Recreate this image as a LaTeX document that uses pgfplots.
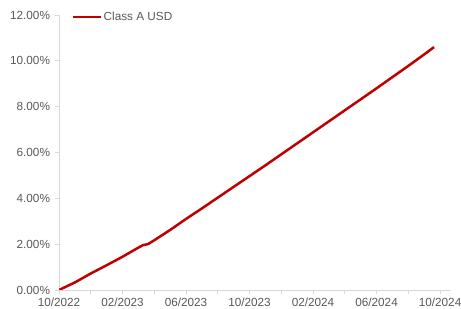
\documentclass[border=0pt]{standalone}
\usepackage{fontspec}
\setmainfont{Liberation Sans}
\usepackage{pgfplots}
\pgfplotsset{compat=1.18}
\definecolor{lineRed}{HTML}{C00000}
\definecolor{txt}{HTML}{595959}
\definecolor{axl}{HTML}{D9D9D9}
\begin{document}
\begin{tikzpicture}
\begin{axis}[
  at={(59bp,19bp)}, anchor=south west,
  scale only axis, width=391.7bp, height=275bp,
  xmin=0, xmax=24.67, ymin=0, ymax=12,
  axis x line*=bottom, axis y line*=left,
  axis line style={draw=axl, line width=0.8bp},
  tick align=outside,
  major tick length=4bp, minor tick length=4bp,
  tick style={draw=axl, line width=0.8bp},
  xtick={0,4,8,12,16,20,24},
  xticklabels={10/2022,02/2023,06/2023,10/2023,02/2024,06/2024,10/2024},
  minor xtick={2,6,10,14,18,22},
  ytick={0,2,4,6,8,10,12},
  yticklabel={\pgfmathprintnumber[fixed,fixed zerofill,precision=2]{\tick}\%},
  /pgf/number format/assume math mode=true,
  tick label style={font=\fontsize{11.8}{13}\selectfont, text=txt},
  yticklabel style={xshift=-1.5bp},
  xticklabel style={yshift=-0.5bp},
  legend style={draw=none, fill=none, at={(0.0332,0.993)}, anchor=west, inner sep=0pt,
    font=\fontsize{11.8}{13}\selectfont, text=txt, nodes={inner sep=1bp}},
  legend image code/.code={\draw[#1] (0bp,0bp) -- (28bp,0bp);},
  legend cell align=left,
]
\addplot[lineRed, line width=2.5bp, line join=round] coordinates {
(0,0) (1,0.33) (2,0.72) (3,1.08) (4,1.45) (5,1.85) (5.3,1.96) (5.6,2.0)
(6,2.17) (7,2.62) (8,3.10) (9,3.56) (10,4.03) (11,4.50) (12,4.97)
(13,5.44) (14,5.92) (15,6.40) (16,6.88) (17,7.36) (18,7.84) (19,8.32)
(20,8.80) (21,9.29) (22,9.78) (23,10.28) (23.62,10.6)
};
\addlegendentry{Class A USD}
\end{axis}
\pgfresetboundingbox
\path (0,0) rectangle (461bp,309bp);
\end{tikzpicture}
\end{document}
